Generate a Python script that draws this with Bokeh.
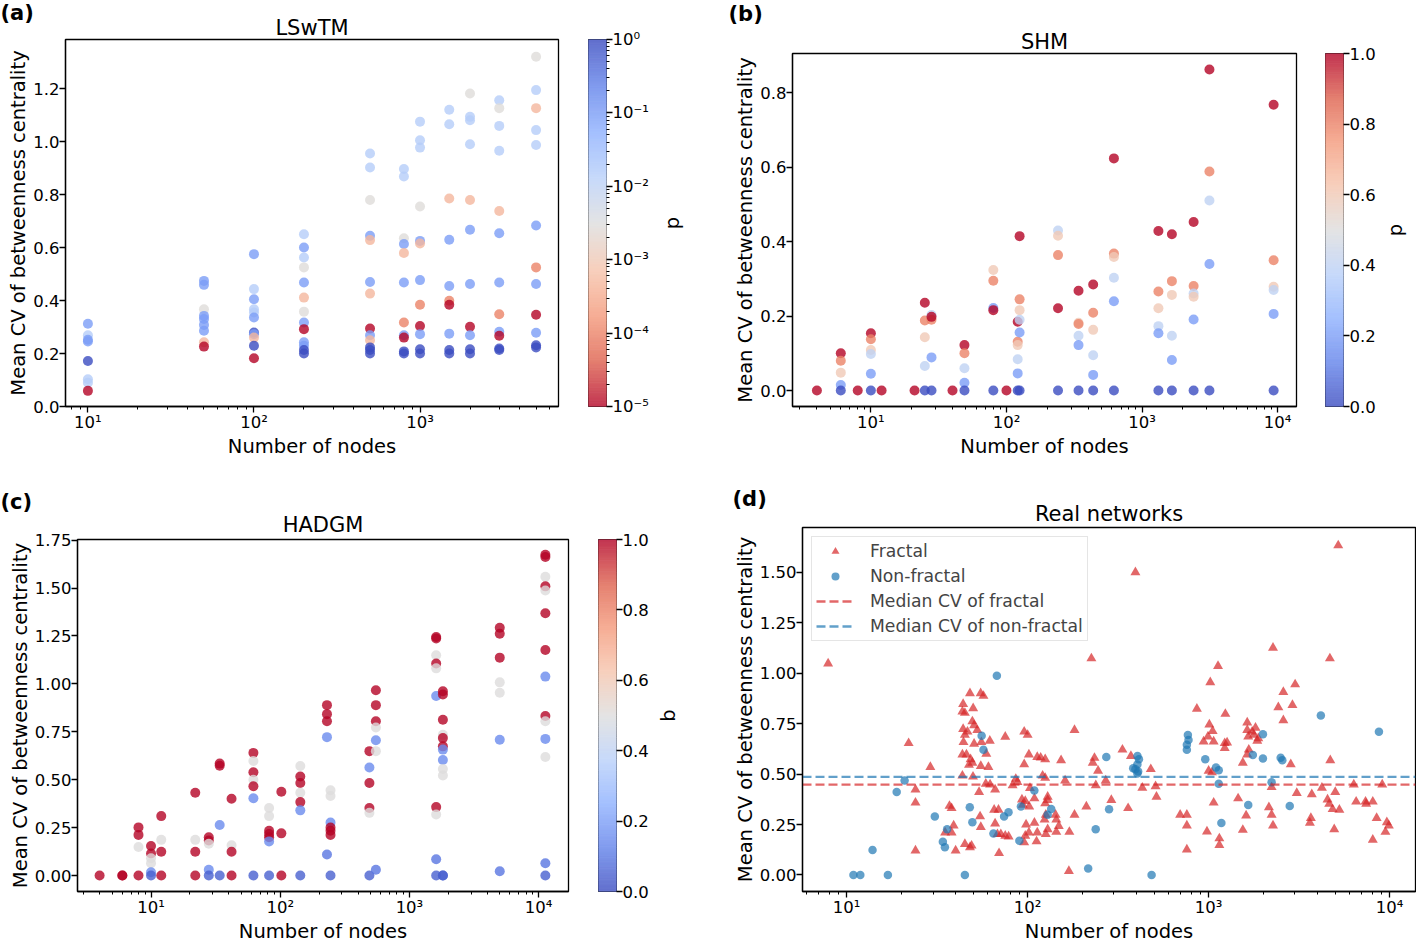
import numpy as np
from bokeh.plotting import figure
from bokeh.layouts import row, column
from bokeh.models import (ColumnDataSource, FixedTicker, PrintfTickFormatter,
                          CustomJSTickFormatter, Range1d, Legend, LegendItem, Title)
from bokeh.transform import linear_cmap, log_cmap
from bokeh.core.properties import value
from bokeh.embed import file_html
from bokeh.resources import INLINE

FONT = "DejaVu Sans"
TICK_FS = "16.5px"
LABEL_FS = "19.5px"
TITLE_FS = "21px"

# ---------------- (a) LSwTM ----------------
a_nodes = [10, 10, 10, 10, 10, 10, 10, 10,
           50, 50, 50, 50, 50, 50, 50, 50, 50,
           100, 100, 100, 100, 100, 100, 100, 100, 100, 100, 100,
           200, 200, 200, 200, 200, 200, 200, 200, 200, 200, 200, 200, 200,
           500, 500, 500, 500, 500, 500, 500, 500, 500, 500, 500, 500, 500,
           800, 800, 800, 800, 800, 800, 800, 800, 800, 800, 800,
           1000, 1000, 1000, 1000, 1000, 1000, 1000, 1000, 1000, 1000, 1000, 1000,
           1500, 1500, 1500, 1500, 1500, 1500, 1500, 1500, 1500, 1500,
           2000, 2000, 2000, 2000, 2000, 2000, 2000, 2000, 2000, 2000, 2000,
           3000, 3000, 3000, 3000, 3000, 3000, 3000, 3000, 3000, 3000, 3000, 3000,
           5000, 5000, 5000, 5000, 5000, 5000, 5000, 5000, 5000, 5000, 5000, 5000]
a_cv = [0.312, 0.269, 0.252, 0.245, 0.172, 0.103, 0.090, 0.059,
        0.474, 0.459, 0.367, 0.342, 0.330, 0.308, 0.286, 0.242, 0.226,
        0.575, 0.443, 0.405, 0.367, 0.355, 0.336, 0.279, 0.273, 0.260, 0.229, 0.182,
        0.650, 0.600, 0.562, 0.525, 0.468, 0.411, 0.358, 0.317, 0.292, 0.242, 0.229, 0.213, 0.200,
        0.955, 0.902, 0.779, 0.644, 0.628, 0.470, 0.426, 0.294, 0.269, 0.250, 0.223, 0.213, 0.200,
        0.896, 0.868, 0.635, 0.613, 0.579, 0.468, 0.317, 0.269, 0.260, 0.208, 0.200,
        1.075, 1.005, 0.977, 0.755, 0.625, 0.615, 0.477, 0.384, 0.304, 0.273, 0.216, 0.200,
        1.120, 1.065, 0.785, 0.629, 0.455, 0.399, 0.384, 0.275, 0.213, 0.200,
        1.181, 1.093, 1.080, 0.990, 0.779, 0.667, 0.462, 0.301, 0.269, 0.216, 0.200,
        1.156, 1.126, 1.059, 0.965, 0.738, 0.654, 0.468, 0.348, 0.282, 0.267, 0.219, 0.213,
        1.320, 1.194, 1.126, 1.043, 0.987, 0.683, 0.525, 0.462, 0.346, 0.278, 0.231, 0.223]
a_p = [0.1, 0.015, 0.1, 0.1, 1.0, 0.015, 0.015, 1e-5,
       0.1, 0.1, 0.003, 0.1, 0.1, 0.1, 0.1, 0.0005, 1e-5,
       0.1, 0.015, 0.1, 0.015, 0.015, 0.1, 1.0, 0.1, 0.0005, 1.0, 1e-5,
       0.015, 0.1, 0.015, 0.003, 0.1, 0.0005, 0.003, 0.1, 1e-5, 0.1, 0.1, 1.0, 1.0,
       0.015, 0.015, 0.003, 0.1, 0.0005, 0.1, 0.0005, 1e-5, 0.1, 0.0005, 1.0, 1.0, 1.0,
       0.015, 0.015, 0.003, 0.1, 0.0005, 0.1, 0.0001, 0.1, 1e-5, 1.0, 1.0,
       0.015, 0.015, 0.015, 0.003, 0.1, 0.0005, 0.1, 0.0001, 1e-5, 0.1, 1.0, 1.0,
       0.015, 0.015, 0.0005, 0.1, 0.1, 0.0001, 1e-5, 0.1, 1.0, 1.0,
       0.003, 0.015, 0.015, 0.015, 0.0005, 0.1, 0.1, 1e-5, 0.1, 1.0, 1.0,
       0.015, 0.003, 0.015, 0.015, 0.0005, 0.1, 0.1, 0.0001, 0.1, 1e-5, 1.0, 1.0,
       0.003, 0.015, 0.0005, 0.015, 0.015, 0.1, 0.0001, 0.1, 1e-5, 0.1, 1.0, 1.0]

# ---------------- (b) SHM ----------------
b_nodes = [4,
           6, 6, 6, 6, 6,
           8,
           10, 10, 10, 10, 10, 10,
           12, 21,
           25, 25, 25, 25, 25,
           28, 28, 28, 28, 28,
           40,
           49, 49, 49, 49, 49,
           80, 80, 80, 80, 80,
           100,
           121, 121, 121, 121, 121, 121,
           125, 125, 125, 125, 125, 125,
           240, 240, 240, 240, 240,
           340, 340, 340, 340, 340, 340,
           436, 436, 436, 436, 436, 436,
           620, 620, 620, 620, 620, 620,
           1320, 1320, 1320, 1320, 1320, 1320,
           1660, 1660, 1660, 1660, 1660, 1660,
           2400, 2400, 2400, 2400, 2400, 2400,
           3140, 3140, 3140, 3140, 3140,
           9340, 9340, 9340, 9340, 9340, 9340]
b_cv = [0.0,
        0.100, 0.080, 0.048, 0.015, 0.0,
        0.0,
        0.154, 0.138, 0.109, 0.098, 0.045, 0.0,
        0.0, 0.0,
        0.236, 0.188, 0.143, 0.066, 0.0,
        0.203, 0.190, 0.198, 0.089, 0.0,
        0.0,
        0.122, 0.100, 0.060, 0.021, 0.0,
        0.324, 0.295, 0.222, 0.216, 0.0,
        0.0,
        0.185, 0.131, 0.122, 0.084, 0.046, 0.0,
        0.415, 0.245, 0.216, 0.190, 0.156, 0.0,
        0.430, 0.416, 0.364, 0.221, 0.0,
        0.268, 0.182, 0.179, 0.147, 0.122, 0.0,
        0.285, 0.209, 0.163, 0.095, 0.042, 0.0,
        0.624, 0.368, 0.359, 0.303, 0.240, 0.0,
        0.429, 0.266, 0.221, 0.173, 0.154, 0.0,
        0.420, 0.294, 0.257, 0.147, 0.082, 0.0,
        0.453, 0.281, 0.261, 0.252, 0.191, 0.0,
        0.863, 0.589, 0.511, 0.340, 0.0,
        0.768, 0.350, 0.279, 0.270, 0.206, 0.0]
b_p = [1.0,
       1.0, 0.8, 0.6, 0.2, 0.0,
       1.0,
       1.0, 0.8, 0.6, 0.4, 0.2, 0.0,
       1.0, 1.0,
       1.0, 0.8, 0.6, 0.4, 0.0,
       0.4, 0.8, 1.0, 0.2, 0.0,
       1.0,
       1.0, 0.8, 0.4, 0.2, 0.0,
       0.6, 0.8, 0.2, 1.0, 0.0,
       1.0,
       1.0, 0.8, 0.6, 0.4, 0.2, 0.0,
       1.0, 0.8, 0.6, 0.4, 0.2, 0.0,
       0.4, 0.6, 0.8, 1.0, 0.0,
       1.0, 0.6, 0.8, 0.4, 0.2, 0.0,
       1.0, 0.8, 0.6, 0.4, 0.2, 0.0,
       1.0, 0.8, 0.6, 0.4, 0.2, 0.0,
       1.0, 0.8, 0.6, 0.4, 0.2, 0.0,
       1.0, 0.8, 0.6, 0.4, 0.2, 0.0,
       1.0, 0.8, 0.4, 0.6, 0.2, 0.0,
       1.0, 0.8, 0.4, 0.2, 0.0,
       1.0, 0.8, 0.6, 0.4, 0.2, 0.0]

# ---------------- (c) HADGM ----------------
c_nodes = [4,
           6, 6,
           8, 8, 8, 8,
           10, 10, 10, 10, 10, 10,
           12, 12, 12, 12,
           22, 22, 22, 22,
           28, 28, 28, 28, 28,
           34, 34, 34, 34,
           42, 42, 42, 42,
           62, 62, 62, 62, 62, 62, 62,
           82, 82, 82, 82, 82, 82, 82,
           102, 102, 102,
           143, 143, 143, 143, 143, 143, 143,
           230, 230, 230, 230, 230,
           245, 245, 245, 245, 245, 245, 245,
           490, 490, 490, 490, 490, 490,
           550, 550, 550, 550, 550, 550, 550,
           1610, 1610, 1610, 1610, 1610, 1610, 1610, 1610, 1610, 1610,
           1815, 1815, 1815, 1815, 1815, 1815, 1815, 1815, 1815, 1815, 1815, 1815,
           5000, 5000, 5000, 5000, 5000, 5000, 5000,
           11270, 11270, 11270, 11270, 11270, 11270, 11270, 11270, 11270, 11270, 11270, 11270, 11270, 11270]
c_cv = [0.0,
        0.0, 0.0,
        0.251, 0.212, 0.149, 0.0,
        0.154, 0.115, 0.090, 0.064, 0.017, 0.0,
        0.310, 0.186, 0.124, 0.0,
        0.432, 0.186, 0.124, 0.0,
        0.200, 0.183, 0.166, 0.030, 0.0,
        0.584, 0.573, 0.264, 0.0,
        0.401, 0.158, 0.124, 0.0,
        0.640, 0.598, 0.539, 0.500, 0.466, 0.403, 0.0,
        0.352, 0.310, 0.234, 0.217, 0.200, 0.178, 0.0,
        0.437, 0.220, 0.0,
        0.571, 0.517, 0.483, 0.432, 0.383, 0.340, 0.0,
        0.889, 0.842, 0.805, 0.722, 0.110,
        0.445, 0.415, 0.276, 0.250, 0.234, 0.212, 0.0,
        0.649, 0.564, 0.483, 0.352, 0.327, 0.0,
        0.967, 0.889, 0.805, 0.772, 0.706, 0.649, 0.030,
        1.245, 1.237, 1.149, 1.106, 1.081, 0.937, 0.357, 0.318, 0.085, 0.0,
        0.962, 0.945, 0.813, 0.734, 0.717, 0.674, 0.657, 0.603, 0.556, 0.522, 0.0, 0.0,
        1.293, 1.262, 1.137, 1.008, 0.954, 0.708, 0.022,
        1.674, 1.662, 1.559, 1.509, 1.487, 1.369, 1.177, 1.038, 0.832, 0.805, 0.713, 0.618, 0.064, 0.0]
c_b = [1.0,
       1.0, 1.0,
       1.0, 1.0, 0.5, 1.0,
       1.0, 1.0, 0.5, 0.5, 0.15, 0.05,
       1.0, 0.5, 1.0, 1.0,
       1.0, 0.5, 1.0, 1.0,
       1.0, 1.0, 0.5, 0.15, 0.05,
       1.0, 1.0, 0.15, 0.05,
       1.0, 0.5, 1.0, 1.0,
       1.0, 0.5, 1.0, 0.5, 1.0, 0.15, 0.05,
       0.5, 0.5, 1.0, 1.0, 1.0, 0.15, 0.05,
       1.0, 1.0, 1.0,
       0.5, 1.0, 1.0, 0.5, 1.0, 0.15, 0.05,
       1.0, 1.0, 1.0, 0.15, 0.1,
       0.5, 0.5, 0.15, 1.0, 1.0, 1.0, 0.05,
       1.0, 0.15, 1.0, 1.0, 0.5, 0.05,
       1.0, 1.0, 1.0, 0.5, 0.15, 0.5, 0.1,
       1.0, 1.0, 0.5, 1.0, 0.5, 0.15, 1.0, 0.5, 0.1, 0.05,
       1.0, 1.0, 1.0, 0.5, 1.0, 1.0, 0.15, 0.15, 0.5, 0.5, 0.05, 0.05,
       1.0, 1.0, 1.0, 0.5, 0.5, 0.15, 0.1,
       1.0, 1.0, 0.5, 1.0, 0.5, 1.0, 1.0, 0.15, 1.0, 0.5, 0.15, 0.5, 0.1, 0.05]

# ---------------- (d) Real networks ----------------
frac_nodes = [7.9, 225, 22, 29, 24, 24, 24, 37, 38, 39, 35, 38, 40, 45, 49, 44, 43.6, 45, 48, 50,
              55, 57, 44, 46.5, 49.5, 50.6, 52.7, 45, 44.2, 50.6, 55.5, 61.8, 43.6, 45.9, 48.4, 47.4,
              49.5, 55.1, 60.7, 59.1, 43.6, 49.9, 53.9, 58.7, 62, 66.1, 65.3, 69, 66.1, 54.6, 55.1,
              68.1, 71.1, 75.2, 78.5, 69.5, 48, 75.2, 95.7, 100, 101.6, 95.7, 86, 87.8, 82.6, 103,
              93, 97, 94, 102, 109, 113, 118, 125, 121, 125, 129, 129, 125, 126, 124, 142.6, 144,
              148.6, 144, 129, 126, 113, 98, 101.6, 97, 95.7, 112, 109, 153, 161, 170, 181.5, 169,
              181.5, 211, 234, 229, 238, 245, 270, 290, 334, 359,
              2268, 4677, 1127, 1021, 861, 1237, 1009, 1052, 938, 992, 1066, 1227, 1265, 1227, 1634,
              1634, 1655, 1740, 1815, 1778, 1881, 1857, 1667, 1634, 1545, 2427, 2587, 3006, 2904,
              2587, 2843, 4700, 372, 479, 430, 509, 515, 696, 758, 758, 758, 979, 1000, 1044, 1066,
              1146, 1146, 1455, 1545, 1611, 2153, 2228, 2268, 2228, 3069, 3673, 3626, 3715, 4226,
              4539, 4637, 4842, 5276, 5007, 4943, 6337, 6532, 7360, 7420, 8072, 8479, 8072, 9103,
              9655, 9900, 9482, 5200, 394]
frac_cv = [1.048, 1.073, 0.653, 0.535, 0.423, 0.358, 0.121, 0.342, 0.331, 0.245, 0.210, 0.210, 0.121,
           0.153, 0.145, 0.847, 0.810, 0.803, 0.900, 0.826, 0.900, 0.887, 0.723, 0.710, 0.761, 0.742,
           0.718, 0.694, 0.658, 0.650, 0.658, 0.665, 0.597, 0.597, 0.573, 0.545, 0.556, 0.540, 0.535,
           0.600, 0.492, 0.487, 0.411, 0.452, 0.448, 0.423, 0.323, 0.323, 0.255, 0.290, 0.237, 0.202,
           0.202, 0.194, 0.190, 0.108, 0.137, 0.685, 0.710, 0.694, 0.597, 0.548, 0.476, 0.460, 0.444,
           0.431, 0.374, 0.366, 0.347, 0.339, 0.379, 0.584, 0.581, 0.573, 0.492, 0.481, 0.387, 0.371,
           0.355, 0.298, 0.274, 0.298, 0.274, 0.242, 0.213, 0.226, 0.202, 0.210, 0.250, 0.210, 0.194,
           0.161, 0.166, 0.258, 0.568, 0.468, 0.213, 0.718, 0.019, 0.298, 0.339, 0.580, 0.556, 0.444,
           0.516, 0.468, 0.371, 0.621, 0.331,
           1.126, 1.073, 1.035, 0.955, 0.823, 0.798, 0.745, 0.713, 0.661, 0.686, 0.661, 0.653, 0.656,
           0.629, 0.755, 0.718, 0.686, 0.710, 0.729, 0.694, 0.677, 0.665, 0.621, 0.597, 0.556, 0.831,
           0.906, 0.944, 0.842, 0.766, 0.548, 0.568, 0.589, 0.524, 0.432, 0.439, 0.387, 0.298, 0.298,
           0.245, 0.126, 0.215, 0.516, 0.508, 0.358, 0.181, 0.148, 0.379, 0.223, 0.294, 0.335, 0.298,
           0.245, 0.435, 0.406, 0.282, 0.258, 0.400, 0.432, 0.374, 0.352, 0.326, 0.323, 0.411, 0.226,
           0.448, 0.363, 0.363, 0.352, 0.363, 0.282, 0.174, 0.448, 0.261, 0.245, 0.213, 1.633, 1.500]
nonfrac_nodes = [67.6, 55.7, 57, 20.9, 18.9, 30.7, 47.9, 49.5, 35.9, 34, 34.9, 13.9, 10.9, 11.9, 16.9,
                 45, 64.7, 74.1, 78.4, 91.8, 90, 108.9, 134.9, 129, 216, 237.7, 281.8, 272, 404.5,
                 412, 404, 383, 394, 408, 404, 484, 768, 774, 758, 758, 958, 1098, 1137, 1137, 1176,
                 1655, 1755, 1995, 1995, 2228, 2500, 2553, 2806, 4169, 8730]
nonfrac_cv = [0.987, 0.690, 0.621, 0.468, 0.411, 0.290, 0.335, 0.261, 0.226, 0.165, 0.137, 0.124, 0.0,
              0.0, 0.0, 0.0, 0.205, 0.290, 0.311, 0.339, 0.169, 0.419, 0.327, 0.298, 0.032, 0.226,
              0.326, 0.584, 0.589, 0.573, 0.548, 0.529, 0.524, 0.513, 0.503, 0.0, 0.694, 0.669, 0.645,
              0.621, 0.573, 0.532, 0.519, 0.452, 0.258, 0.347, 0.594, 0.697, 0.577, 0.460, 0.581,
              0.568, 0.342, 0.790, 0.710]
median_fractal = 0.448
median_nonfractal = 0.486

# ---------------- colour maps ----------------
CW_KEYS = [(0.0, (0.2298, 0.2987, 0.7537)), (0.125, (0.3830, 0.5094, 0.9174)),
           (0.25, (0.5530, 0.6889, 0.9954)), (0.375, (0.7222, 0.8140, 0.9766)),
           (0.5, (0.8654, 0.8654, 0.8654)), (0.625, (0.9589, 0.7698, 0.6780)),
           (0.75, (0.9580, 0.6028, 0.4818)), (0.875, (0.8692, 0.3783, 0.3003)),
           (1.0, (0.7057, 0.0156, 0.1502))]


def coolwarm(n=256, alpha_white=None):
    xs = [k[0] for k in CW_KEYS]
    out = []
    for t in np.linspace(0, 1, n):
        rgb = [np.interp(t, xs, [k[1][i] for k in CW_KEYS]) for i in range(3)]
        if alpha_white is not None:
            rgb = [c * alpha_white + (1 - alpha_white) for c in rgb]
        out.append("#%02x%02x%02x" % tuple(int(round(c * 255)) for c in rgb))
    return out


CW = coolwarm()
CW_R = CW[::-1]
CW_BL = coolwarm(alpha_white=0.8)
CW_BL_R = CW_BL[::-1]

SUP_JS = """
const e = Math.round(Math.log10(tick));
const sup = {'-': '\u207b', '0': '\u2070', '1': '\u00b9', '2': '\u00b2', '3': '\u00b3',
             '4': '\u2074', '5': '\u2075'};
return '10' + String(e).split('').map(c => sup[c]).join('');
"""


def style_axis(ax, minor=True):
    ax.major_label_text_font = FONT
    ax.major_label_text_font_size = TICK_FS
    ax.major_label_text_color = "black"
    ax.axis_label_text_font = FONT
    ax.axis_label_text_font_size = LABEL_FS
    ax.axis_label_text_font_style = "normal"
    ax.axis_label_text_color = "black"
    ax.axis_line_color = "black"
    ax.axis_line_width = 1.3
    ax.major_tick_line_color = "black"
    ax.major_tick_line_width = 1.3
    ax.major_tick_out = 6
    ax.major_tick_in = 0
    ax.minor_tick_line_color = "black"
    ax.minor_tick_out = 3 if minor else 0
    ax.minor_tick_in = 0
    ax.major_label_standoff = 0
    ax.axis_label_standoff = 0


def base_fig(**kw):
    p = figure(toolbar_location=None, output_backend="svg", title_location=None, **kw)
    p.xgrid.visible = False
    p.ygrid.visible = False
    p.background_fill_color = "white"
    p.border_fill_color = "white"
    return p


def make_main(fw, fh, bl, bt, br, bb, xr, yr, yticks, yfmt, title, title_standoff,
              letter, letter_offset, letter_valign, letter_standoff):
    p = base_fig(frame_width=fw, frame_height=fh, min_border_left=bl, min_border_top=bt,
                 min_border_right=br, min_border_bottom=bb, x_axis_type="log",
                 x_range=Range1d(*xr), y_range=Range1d(*yr))
    p.outline_line_color = "black"
    p.outline_line_width = 1.3
    p.outline_line_alpha = 1.0
    p.xaxis.ticker = FixedTicker(ticks=[10, 100, 1000, 10000],
                                 minor_ticks=[m * 10 ** e for e in range(0, 5) for m in range(2, 10)])
    p.xaxis.formatter = CustomJSTickFormatter(code=SUP_JS)
    p.yaxis.ticker = FixedTicker(ticks=yticks)
    p.yaxis.formatter = PrintfTickFormatter(format=yfmt)
    p.xaxis.axis_label = "Number of nodes"
    p.yaxis.axis_label = "Mean CV of betweenness centrality"
    style_axis(p.xaxis[0], minor=True)
    style_axis(p.yaxis[0], minor=False)
    p.add_layout(Title(text=title, align="center", vertical_align="bottom",
                       standoff=title_standoff, text_font=FONT, text_font_size=TITLE_FS,
                       text_font_style="normal", text_color="black"), "above")
    p.add_layout(Title(text=letter, align="left", offset=letter_offset,
                       vertical_align=letter_valign, standoff=letter_standoff,
                       text_font=FONT, text_font_size="21px", text_font_style="bold",
                       text_color="black"), "above")
    return p


def make_cbar(fh, bt, br, bb, log=False):
    if log:
        p = base_fig(frame_width=18, frame_height=fh, min_border_left=0, min_border_right=br,
                     min_border_top=bt, min_border_bottom=bb, x_range=Range1d(0, 1),
                     y_range=Range1d(1e-5, 1), y_axis_type="log", y_axis_location="right")
        edges = np.linspace(-5, 0, 257)
        src = ColumnDataSource(dict(b=10 ** edges[:-1], t=10 ** edges[1:], c=CW_BL_R))
        p.yaxis.ticker = FixedTicker(ticks=[1e-5, 1e-4, 1e-3, 1e-2, 1e-1, 1],
                                     minor_ticks=[m * 10.0 ** e for e in range(-5, 0) for m in range(2, 10)])
        p.yaxis.formatter = CustomJSTickFormatter(code=SUP_JS)
    else:
        p = base_fig(frame_width=18, frame_height=fh, min_border_left=0, min_border_right=br,
                     min_border_top=bt, min_border_bottom=bb, x_range=Range1d(0, 1),
                     y_range=Range1d(0, 1), y_axis_location="right")
        edges = np.linspace(0, 1, 257)
        src = ColumnDataSource(dict(b=edges[:-1], t=edges[1:], c=CW_BL))
        p.yaxis.ticker = FixedTicker(ticks=[0, 0.2, 0.4, 0.6, 0.8, 1.0])
        p.yaxis.formatter = PrintfTickFormatter(format="%.1f")
    p.quad(left=0, right=1, bottom="b", top="t", fill_color="c", line_color="c",
           line_width=1, source=src)
    p.xaxis.visible = False
    p.outline_line_color = "black"
    p.outline_line_width = 1.0
    p.outline_line_alpha = 1.0
    style_axis(p.yaxis[0], minor=log)
    p.yaxis[0].axis_line_color = None
    return p


def make_side_label(fh, bt, bb, text, w=28):
    p = base_fig(frame_width=w, frame_height=fh, min_border_left=0, min_border_right=0,
                 min_border_top=bt, min_border_bottom=bb, x_range=Range1d(0, 1),
                 y_range=Range1d(0, 1))
    p.xaxis.visible = False
    p.yaxis.visible = False
    p.outline_line_color = None
    p.text(x=[0.5], y=[0.5], text=[text], angle=np.pi / 2, text_font=value(FONT),
           text_font_size=value(LABEL_FS), text_align="center", text_baseline="middle",
           text_color="black")
    return p


# ---------------- panel (a) ----------------
pa = make_main(493, 367, 65, 39, 30, 54, (10 ** 0.865, 10 ** 3.834), (0, 1.385),
               [0, 0.2, 0.4, 0.6, 0.8, 1.0, 1.2], "%.1f",
               "LSwTM", 0, "(a)", -65, "top", -26)
src_a = ColumnDataSource(dict(n=a_nodes, cv=a_cv, p=a_p))
pa.scatter("n", "cv", source=src_a, size=10, marker="circle",
           fill_color=log_cmap("p", CW_R, 1e-5, 1), fill_alpha=0.8, line_color=None)
cba = make_cbar(367, 39, 52, 54, log=True)
lba = make_side_label(367, 39, 54, "p")

# ---------------- panel (b) ----------------
pb = make_main(504, 353, 106, 53, 29, 54, (10 ** 0.422, 10 ** 4.139), (-0.043, 0.906),
               [0, 0.2, 0.4, 0.6, 0.8], "%.1f",
               "SHM", 0, "(b)", -64, "top", 0)
src_b = ColumnDataSource(dict(n=b_nodes, cv=b_cv, p=b_p))
pb.scatter("n", "cv", source=src_b, size=10, marker="circle",
           fill_color=linear_cmap("p", CW, 0, 1), fill_alpha=0.8, line_color=None)
cbb = make_cbar(353, 53, 38, 54)
lbb = make_side_label(353, 53, 54, "p")

# ---------------- panel (c) ----------------
pc = make_main(491, 352, 77, 79, 30, 54, (10 ** 0.431, 10 ** 4.231), (-0.0835, 1.7535),
               [0, 0.25, 0.5, 0.75, 1.0, 1.25, 1.5, 1.75], "%.2f",
               "HADGM", 5, "(c)", -77, "top", -14)
src_c = ColumnDataSource(dict(n=c_nodes, cv=c_cv, b=c_b))
pc.scatter("n", "cv", source=src_c, size=10, marker="circle",
           fill_color=linear_cmap("b", CW, 0, 1), fill_alpha=0.8, line_color=None)
cbc = make_cbar(352, 79, 38, 54)
lbc = make_side_label(352, 79, 54, "b")

# ---------------- panel (d) ----------------
xd = (10 ** 0.756, 10 ** 4.143)
pd_ = make_main(613, 364, 120, 67, 1, 54, xd, (-0.082, 1.722),
                [0, 0.25, 0.5, 0.75, 1.0, 1.25, 1.5], "%.2f",
                "Real networks", 4, "(d)", -70, "bottom", -26)
r_f = pd_.scatter(frac_nodes, frac_cv, marker="triangle", size=10, fill_color="#d62728",
                  fill_alpha=0.7, line_color=None)
r_n = pd_.scatter(nonfrac_nodes, nonfrac_cv, marker="circle", size=8.5, fill_color="#1f77b4",
                  fill_alpha=0.7, line_color=None)
r_mf = pd_.line([xd[0], xd[1]], [median_fractal, median_fractal], line_color="#d62728",
                line_alpha=0.7, line_width=2.3, line_dash="9 4")
r_mn = pd_.line([xd[0], xd[1]], [median_nonfractal, median_nonfractal], line_color="#1f77b4",
                line_alpha=0.7, line_width=2.3, line_dash="9 4")
legend = Legend(items=[LegendItem(label="Fractal", renderers=[r_f]),
                       LegendItem(label="Non-fractal", renderers=[r_n]),
                       LegendItem(label="Median CV of fractal", renderers=[r_mf]),
                       LegendItem(label="Median CV of non-fractal", renderers=[r_mn])],
                location="top_left")
legend.label_text_font = FONT
legend.label_text_font_size = "17.2px"
legend.border_line_color = "#cccccc"
legend.border_line_width = 1.3
legend.background_fill_alpha = 0.85
legend.padding = 4
legend.spacing = 5
legend.margin = 9
legend.glyph_width = 38
legend.glyph_height = 20
legend.label_height = 20
legend.label_standoff = 16
pd_.add_layout(legend)

row1 = row(column(pa), column(cba), column(lba), column(pb), column(cbb), column(lbb))
row2 = row(column(pc), column(cbc), column(lbc), column(pd_))
layout = column(row1, row2)
open("out.html", "w").write(file_html(layout, INLINE))
